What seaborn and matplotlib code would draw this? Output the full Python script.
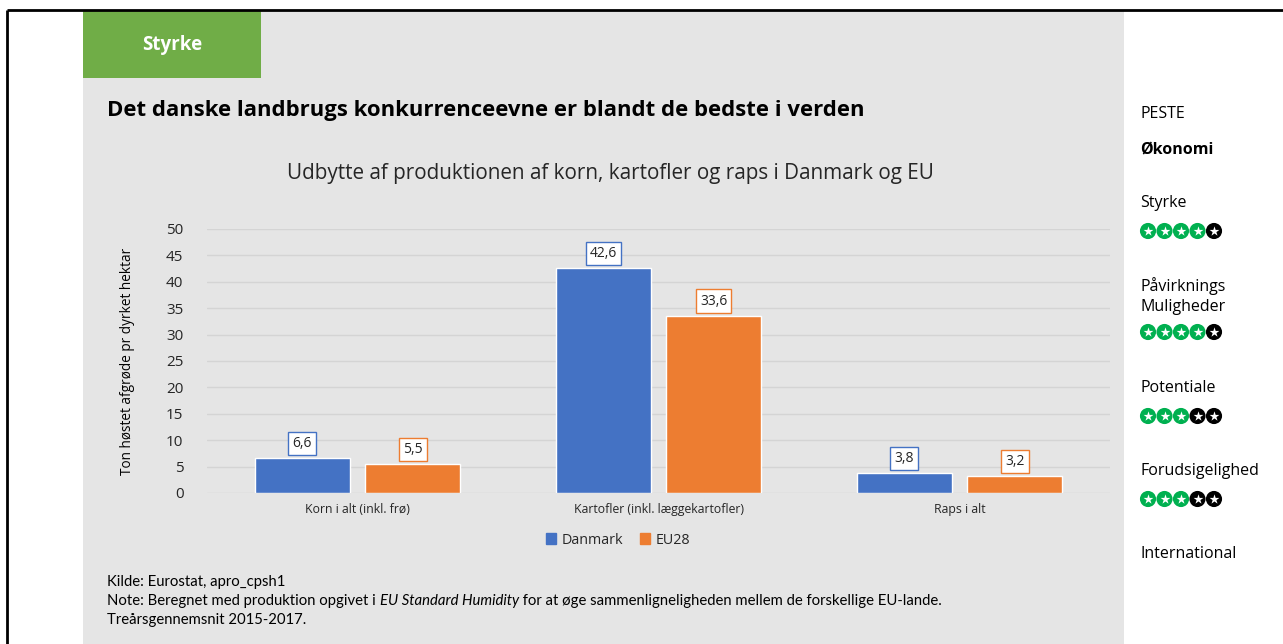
import matplotlib
matplotlib.use("Agg")
import matplotlib.pyplot as plt
import seaborn as sns
import pandas as pd
from matplotlib.patches import Rectangle

# --- data ---------------------------------------------------------------
categories = ["Korn i alt (inkl. frø)", "Kartofler (inkl. læggekartofler)", "Raps i alt"]
danmark = [6.6, 42.6, 3.8]
eu28 = [5.5, 33.6, 3.2]
series_names = ["Danmark", "EU28"]
y_ticks = [0, 5, 10, 15, 20, 25, 30, 35, 40, 45, 50]

side_labels = ["PESTE", "Økonomi", "Styrke", "Påvirknings\nMuligheder",
               "Potentiale", "Forudsigelighed", "International"]
side_scores = [None, None, 4, 4, 3, 3, None]
side_bold = [False, True, False, False, False, False, False]

df = pd.DataFrame({
    "kategori": categories * 2,
    "værdi": danmark + eu28,
    "serie": [series_names[0]] * 3 + [series_names[1]] * 3,
})

BLUE = "#4472c4"
ORANGE = "#ed7d31"
PANEL = "#e5e5e5"
TXT = "#262626"

sns.set_theme(style="white")
plt.rcParams["font.family"] = ["Open Sans", "DejaVu Sans"]

W, H = 1283, 644
fig = plt.figure(figsize=(W / 100, H / 100), dpi=100)
fig.patch.set_facecolor("white")

# full-figure canvas in pixel units for the page furniture
canvas = fig.add_axes([0, 0, 1, 1], zorder=0)
canvas.set_xlim(0, W)
canvas.set_ylim(H, 0)
canvas.axis("off")

canvas.add_patch(Rectangle((83, 10), 1124 - 83, H - 10, color=PANEL, lw=0))
canvas.add_patch(Rectangle((83, 10), 261 - 83, 78 - 10, color="#70ad47", lw=0))
canvas.plot([7, W], [10, 10], color="black", lw=2, solid_capstyle="butt")
canvas.plot([7, 7], [10, H], color="black", lw=2, solid_capstyle="butt")

canvas.text(172, 45, "Styrke", color="white", fontsize=13.5, fontweight="bold",
            ha="center", va="center")
canvas.text(107, 110, "Det danske landbrugs konkurrenceevne er blandt de bedste i verden",
            color="black", fontsize=15.9, fontweight="bold", ha="left", va="center")
canvas.text(610, 173, "Udbytte af produktionen af korn, kartofler og raps i Danmark og EU",
            color=TXT, fontsize=14.9, ha="center", va="center")

# footnotes
note_font = ["Lato", "DejaVu Sans"]
NOTE_SIZE = 10.7
canvas.text(107, 582, "Kilde: Eurostat, apro_cpsh1", fontsize=NOTE_SIZE, family=note_font,
            color="black", va="center")
fig.canvas.draw()
renderer = fig.canvas.get_renderer()
x = 107
for piece, style in [("Note: Beregnet med produktion opgivet i ", "normal"),
                     ("EU Standard Humidity", "italic"),
                     (" for at øge sammenligneligheden mellem de forskellige EU-lande.", "normal")]:
    t = canvas.text(x, 601, piece, fontsize=NOTE_SIZE, family=note_font, style=style,
                    color="black", va="center")
    x += t.get_window_extent(renderer=renderer).width
canvas.text(107, 620, "Treårsgennemsnit 2015-2017.", fontsize=NOTE_SIZE, family=note_font,
            color="black", va="center")

# side panel with ratings
ys = [114, 149, 203, 296, 388, 471, 554]
for label, score, bold, yy in zip(side_labels, side_scores, side_bold, ys):
    canvas.text(1140, yy, label, fontsize=11.5, fontweight="bold" if bold else "normal",
                color="black", va="center", linespacing=1.3)
    if score is not None:
        sy = yy + (36 if "\n" in label else 28)
        sx = [1148 + 16.5 * i for i in range(5)]
        cols = ["#00b050" if i < score else "black" for i in range(5)]
        canvas.scatter(sx, [sy] * 5, s=135, c=cols, marker="o", lw=0, zorder=3)
        canvas.scatter(sx, [sy] * 5, s=55, c="white", marker="*", lw=0, zorder=4)

# --- chart ----------------------------------------------------------------
left, right = 207, 1110
bottom, top = 493, 229
ax = fig.add_axes([left / W, (H - bottom) / H, (right - left) / W, (bottom - top) / H], zorder=2)
ax.patch.set_alpha(0)

sns.barplot(data=df, x="kategori", y="værdi", hue="serie", hue_order=series_names,
            palette=[BLUE, ORANGE], width=0.733, gap=0.136, ax=ax,
            saturation=1, legend=False, errorbar=None)

ax.set_ylim(0, 50)
ax.set_yticks(y_ticks)
ax.set_xlim(-0.5, 2.5)
ax.grid(axis="y", color="#d4d4d4", lw=1)
ax.set_axisbelow(True)
for s in ax.spines.values():
    s.set_visible(False)
ax.tick_params(axis="y", length=0, pad=17, labelsize=11, labelcolor=TXT)
ax.tick_params(axis="x", length=0, pad=7, labelsize=8.8, labelcolor=TXT)
ax.set_xlabel("")
ax.set_ylabel("Ton høstet afgrøde pr dyrket hektar", fontsize=9.8, color="black", labelpad=22)

for container, col in zip(ax.containers, [BLUE, ORANGE]):
    ax.bar_label(container, labels=[f"{v:.1f}".replace(".", ",") for v in container.datavalues],
                 padding=5, fontsize=10, color=TXT,
                 bbox=dict(boxstyle="square,pad=0.3", fc="white", ec=col, lw=1))

# legend
handles = [Rectangle((0, 0), 1, 1, color=c) for c in [BLUE, ORANGE]]
fig.legend(handles, series_names, loc="center", bbox_to_anchor=(618 / W, (H - 540) / H),
           ncol=2, frameon=False, fontsize=10.3, handlelength=0.7, handleheight=0.7,
           handletextpad=0.4, columnspacing=1.2, labelcolor=TXT)

fig.savefig("out.png", dpi=100, facecolor="white")
